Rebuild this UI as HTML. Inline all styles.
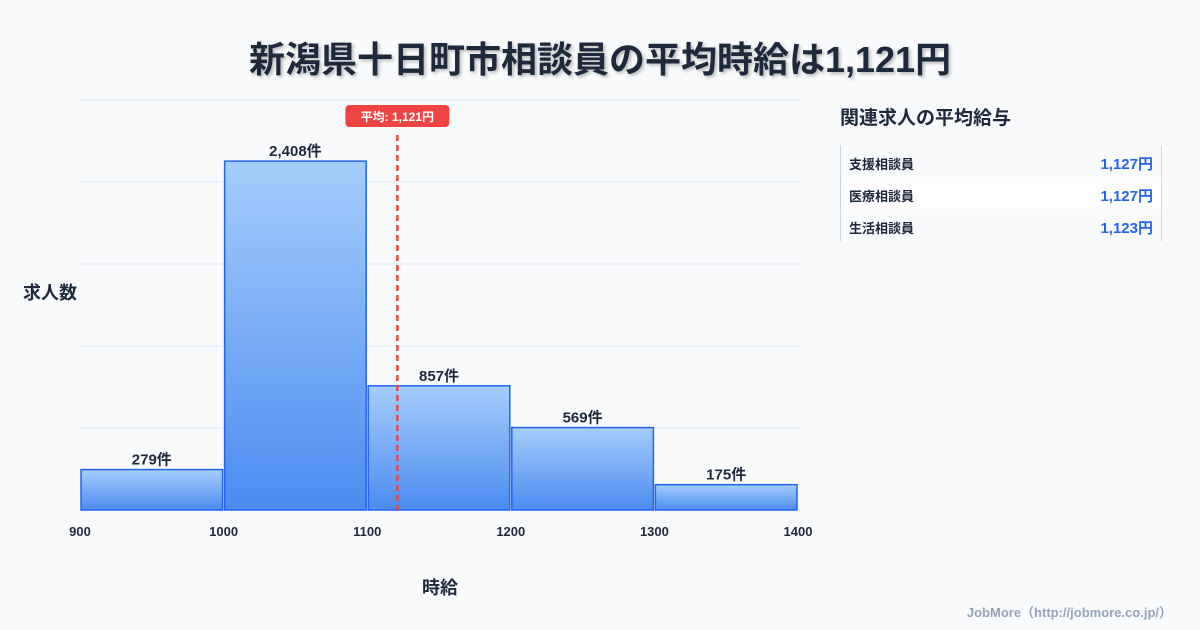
<!DOCTYPE html>
<html><head><meta charset="utf-8">
<style>
body{margin:0;width:1200px;height:630px;background:#f8fafc;font-family:"Liberation Sans","Noto Sans CJK JP",sans-serif;overflow:hidden;position:relative}
.title{position:absolute;top:31px;left:0;width:1200px;text-align:center;font-size:36px;font-weight:bold;color:#1e293b;text-shadow:2px 2px 3px rgba(0,0,0,0.25)}
.side-title{position:absolute;left:840px;top:103px;font-size:19px;font-weight:bold;color:#1e293b}
.table{position:absolute;left:840px;top:145px;width:320px;border-left:1px solid #cbd5e1;border-right:1px solid #cbd5e1}
.row{height:32px;display:flex;justify-content:space-between;align-items:center;padding:4px 8px 0 8px;box-sizing:border-box}
.row .n{font-size:13px;font-weight:bold;color:#1e293b}
.row .v{font-size:15px;font-weight:bold;color:#2563eb}
.row.alt{background:#fff}
.foot{position:absolute;right:28px;top:602px;font-size:13px;font-weight:bold;color:#94a3b8}
</style></head><body>
<div class="title">新潟県十日町市相談員の平均時給は1,121円</div>
<svg id="chart" width="1200" height="630" style="position:absolute;left:0;top:0">
<defs><linearGradient id="g" x1="0" y1="0" x2="0" y2="1"><stop offset="0" stop-color="#a5cdfb"/><stop offset="1" stop-color="#4b8cf0"/></linearGradient></defs>
</svg>
<div class="side-title">関連求人の平均給与</div>
<div class="table">
<div class="row"><span class="n">支援相談員</span><span class="v">1,127円</span></div>
<div class="row alt"><span class="n">医療相談員</span><span class="v">1,127円</span></div>
<div class="row"><span class="n">生活相談員</span><span class="v">1,123円</span></div>
</div>
<div class="foot">JobMore（http://jobmore.co.jp/）</div>
<script>
const binStarts=[900,1000,1100,1200,1300];
const counts=[279,2408,857,569,175];
const xTicks=[900,1000,1100,1200,1300,1400];
const meanValue=1121;
const meanLabel="平均: 1,121円";
const NS="http://www.w3.org/2000/svg";
const svg=document.getElementById('chart');
const x0=80,x1=798,y0=510,yTop=100,yMax=2830;
const X=v=>x0+(v-900)/500*(x1-x0);
const Y=v=>y0-v/yMax*(y0-yTop);
function mk(t,a,txt){const e=document.createElementNS(NS,t);for(const k in a)e.setAttribute(k,a[k]);if(txt!==undefined)e.textContent=txt;svg.appendChild(e);return e;}
for(let i=0;i<=5;i++){const y=y0-i*(y0-yTop)/5;const l=mk('line',{x1:x0,x2:800,y1:y,y2:y,stroke:'#e2e8f0','stroke-width':1});

}
binStarts.forEach((b,i)=>{const xa=X(b)+1,xb=X(b+100)-1,y=Y(counts[i]);
const r=mk('rect',{x:xa,y:y,width:xb-xa,height:y0-y,fill:'url(#g)',stroke:'#2563eb','stroke-width':1.5});


const t=mk('text',{x:(xa+xb)/2,y:y-5,'text-anchor':'middle','font-size':15,'font-weight':'bold',fill:'#1e293b'},counts[i].toLocaleString()+'件');

});
xTicks.forEach(v=>{const t=mk('text',{x:X(v),y:536,'text-anchor':'middle','font-size':13,'font-weight':'bold',fill:'#1e293b'},v);

});
const mx=X(meanValue);
const ml=mk('line',{x1:mx,x2:mx,y1:135,y2:510,stroke:'#ef4444','stroke-width':2.5,'stroke-dasharray':'6,4'});


const mb=mk('rect',{x:mx-52,y:105,width:104,height:22,rx:4,fill:'#ef4444'});


const mt=mk('text',{x:mx,y:121,'text-anchor':'middle','font-size':12,'font-weight':'bold',fill:'#fff'},meanLabel);


const yt=mk('text',{x:50,y:299,'text-anchor':'middle','font-size':18,'font-weight':'bold',fill:'#1e293b'},'求人数');


const xt=mk('text',{x:440,y:594,'text-anchor':'middle','font-size':18,'font-weight':'bold',fill:'#1e293b'},'時給');


</script>
</body></html>
